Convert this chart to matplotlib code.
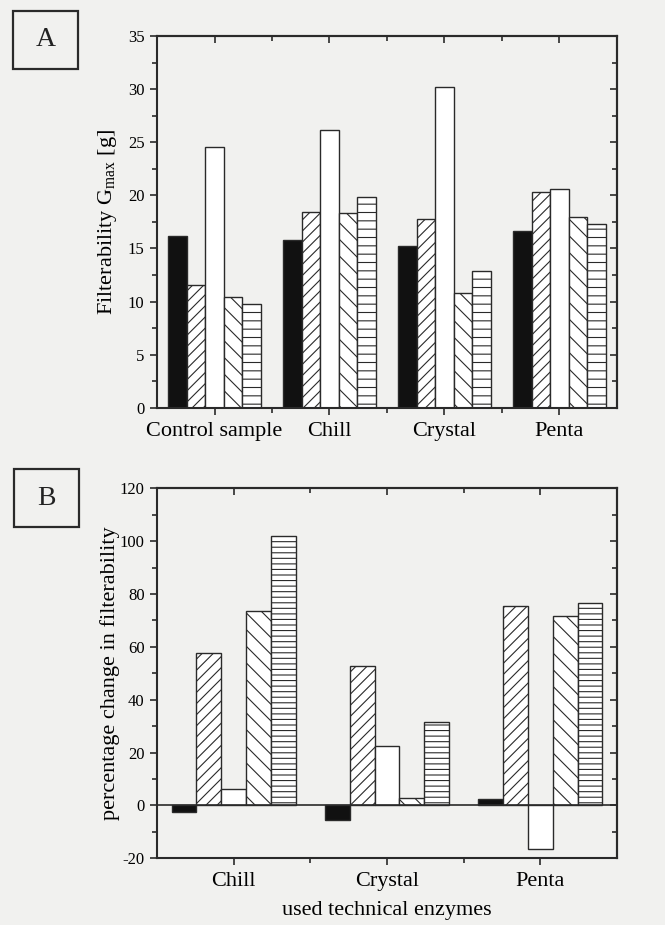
import matplotlib
matplotlib.use("Agg")
import matplotlib.pyplot as plt
import numpy as np
from matplotlib.patches import Rectangle
from matplotlib.ticker import MultipleLocator, FixedLocator

plt.rcParams['font.family'] = ['Liberation Serif', 'DejaVu Serif']
plt.rcParams['mathtext.fontset'] = 'custom'
plt.rcParams['mathtext.rm'] = 'Liberation Serif'
plt.rcParams['mathtext.it'] = 'Liberation Serif:italic'
plt.rcParams['hatch.linewidth'] = 0.8
plt.rcParams['axes.unicode_minus'] = False

# ---------------- data ----------------
categories_A = ['Control sample', 'Chill', 'Crystal', 'Penta']
gmax_s1 = [16.2, 15.8, 15.2, 16.6]
gmax_s2 = [11.55, 18.4, 17.8, 20.3]
gmax_s3 = [24.6, 26.2, 30.2, 20.6]
gmax_s4 = [10.45, 18.3, 10.8, 18.0]
gmax_s5 = [9.75, 19.8, 12.9, 17.3]

categories_B = ['Chill', 'Crystal', 'Penta']
pct_s1 = [-2.6, -5.6, 2.5]
pct_s2 = [57.8, 52.8, 75.3]
pct_s3 = [6.4, 22.5, -16.3]
pct_s4 = [73.4, 2.9, 71.7]
pct_s5 = [102.0, 31.6, 76.7]

ylabel_A = r'Filterability G$_{\mathrm{max}}$ [g]'
ylabel_B = 'percentage change in filterability'
xlabel_B = 'used technical enzymes'

# ---------------- style ----------------
BG = '#f1f1ef'
EDGE = '#2a2a2a'
fills = ['#111111', 'white', 'white', 'white', 'white']
hatches_A = [None, '///', None, '\\\\', '--']
hatches_B = [None, '///', None, '\\\\', '---']
W = 0.162

fig = plt.figure(figsize=(6.65, 9.25), dpi=100, facecolor=BG)


def style_axes(ax, xmaj, xmin, ymaj, ymin, xlim, ylim):
    ax.set_facecolor(BG)
    ax.set_xlim(*xlim)
    ax.set_ylim(*ylim)
    for s in ax.spines.values():
        s.set_linewidth(1.5)
        s.set_color(EDGE)
    ax.xaxis.set_major_locator(FixedLocator(xmaj))
    ax.xaxis.set_minor_locator(FixedLocator(xmin))
    ax.yaxis.set_major_locator(MultipleLocator(ymaj))
    ax.yaxis.set_minor_locator(MultipleLocator(ymin))
    ax.tick_params(which='both', direction='out', top=False, right=False,
                   color=EDGE, width=1.2)
    ax.tick_params(which='major', length=5)
    ax.tick_params(which='minor', length=3.5)
    ax.tick_params(axis='y', labelsize=12, pad=4)
    ax.tick_params(axis='x', labelsize=16, pad=5)
    # mirrored inward ticks on top and right
    sy = ax.secondary_yaxis('right')
    sy.yaxis.set_major_locator(MultipleLocator(ymaj))
    sy.yaxis.set_minor_locator(MultipleLocator(ymin))
    sy.tick_params(which='both', direction='in', labelright=False, color=EDGE, width=1.2)
    sy.tick_params(which='major', length=5)
    sy.tick_params(which='minor', length=3.5)
    sy.spines['right'].set_linewidth(1.5)
    sy.spines['right'].set_color(EDGE)
    sx = ax.secondary_xaxis('top')
    sx.xaxis.set_major_locator(FixedLocator(xmaj))
    sx.xaxis.set_minor_locator(FixedLocator(xmin))
    sx.tick_params(which='both', direction='in', labeltop=False, color=EDGE, width=1.2)
    sx.tick_params(which='major', length=5)
    sx.tick_params(which='minor', length=3.5)
    sx.spines['top'].set_linewidth(1.5)
    sx.spines['top'].set_color(EDGE)


# ---------------- panel A ----------------
axA = fig.add_axes([0.2361, 0.5592, 0.6917, 0.4018])
xA = np.arange(len(categories_A))
seriesA = [gmax_s1, gmax_s2, gmax_s3, gmax_s4, gmax_s5]
for j, vals in enumerate(seriesA):
    axA.bar(xA + (j - 2) * W, vals, width=W, color=fills[j], edgecolor=EDGE,
            linewidth=1.0, hatch=hatches_A[j], zorder=2)
style_axes(axA, xA, xA[:-1] + 0.5, 5, 2.5, (-0.5, 3.5), (0, 35))
axA.set_xticklabels(categories_A)
axA.set_ylabel(ylabel_A, fontsize=16, labelpad=6)

# ---------------- panel B ----------------
axB = fig.add_axes([0.2361, 0.0721, 0.6917, 0.4000])
xB = np.arange(1, len(categories_B) + 1)
seriesB = [pct_s1, pct_s2, pct_s3, pct_s4, pct_s5]
for j, vals in enumerate(seriesB):
    axB.bar(xB + (j - 2) * W, vals, width=W, color=fills[j], edgecolor=EDGE,
            linewidth=1.0, hatch=hatches_B[j], zorder=2)
axB.axhline(0, color=EDGE, linewidth=1.2, zorder=3)
style_axes(axB, xB, xB[:-1] + 0.5, 20, 10, (0.5, 3.5), (-20, 120))
axB.set_xticklabels(categories_B)
axB.set_ylabel(ylabel_B, fontsize=16, labelpad=0)
axB.set_xlabel(xlabel_B, fontsize=16, labelpad=7)

# ---------------- panel letters ----------------
for letter, (x0, y0) in [('A', (13, 11)), ('B', (14, 469))]:
    w, h = 65, 58
    fig.patches.append(Rectangle((x0 / 665, 1 - (y0 + h) / 925), w / 665, h / 925,
                                 transform=fig.transFigure, fill=False,
                                 linewidth=1.6, edgecolor=EDGE))
    fig.text((x0 + w / 2) / 665, 1 - (y0 + h / 2) / 925, letter, fontsize=20,
             ha='center', va='center', color='#222222')

fig.savefig('out.png', dpi=100, facecolor=BG)
